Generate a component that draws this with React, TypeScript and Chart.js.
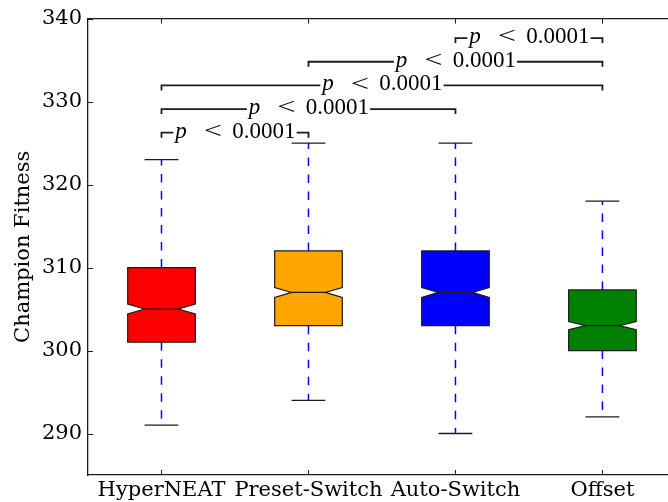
import { useEffect, useRef } from 'react';
import { Chart, registerables } from 'chart.js';

Chart.register(...registerables);

// Five-number summaries per method
const categories = ['HyperNEAT', 'Preset-Switch', 'Auto-Switch', 'Offset'];
const whiskerLow = [291, 294, 290, 292];
const quartile1 = [301, 303, 303, 300];
const medians = [305, 307, 307, 303];
const quartile3 = [310, 312, 312, 307.3];
const whiskerHigh = [323, 325, 325, 318];
const notchHalf = [0.6, 0.6, 0.6, 0.5];
const boxColors = ['#ff0000', '#ffa500', '#0000ff', '#008000'];

// Axis ticks
const yTicks = [290, 300, 310, 320, 330, 340];

// Pairwise significance brackets (1-based box positions)
const compareFrom = [1, 1, 1, 2, 3];
const compareTo = [2, 3, 4, 4, 4];
const compareLevel = [326.25, 329.1, 331.95, 334.8, 337.65];
const compareP = ['0.0001', '0.0001', '0.0001', '0.0001', '0.0001'];

const BOX_WIDTH = 0.46;
const INK = '#1c1c1c';
const LABEL_FONT = '"DejaVu Serif", serif';
const MATH_FONT = '"Liberation Serif", "DejaVu Serif", serif';
const LABEL_SIZE = 21;

const notchedBoxes = {
  id: 'notchedBoxes',
  afterDatasetsDraw(chart: any) {
    const { ctx, scales } = chart;
    const x = scales.x;
    const y = scales.y;
    const hw = BOX_WIDTH / 2;
    ctx.save();
    categories.forEach((_, i) => {
      const pos = i + 1;
      const xl = x.getPixelForValue(pos - hw);
      const xr = x.getPixelForValue(pos + hw);
      const xnl = x.getPixelForValue(pos - hw / 2);
      const xnr = x.getPixelForValue(pos + hw / 2);
      const yq1 = y.getPixelForValue(quartile1[i]);
      const yq3 = y.getPixelForValue(quartile3[i]);
      const ym = y.getPixelForValue(medians[i]);
      const ynl = y.getPixelForValue(medians[i] - notchHalf[i]);
      const ynh = y.getPixelForValue(medians[i] + notchHalf[i]);
      ctx.beginPath();
      ctx.moveTo(xl, yq1);
      ctx.lineTo(xl, ynl);
      ctx.lineTo(xnl, ym);
      ctx.lineTo(xl, ynh);
      ctx.lineTo(xl, yq3);
      ctx.lineTo(xr, yq3);
      ctx.lineTo(xr, ynh);
      ctx.lineTo(xnr, ym);
      ctx.lineTo(xr, ynl);
      ctx.lineTo(xr, yq1);
      ctx.closePath();
      ctx.fillStyle = boxColors[i];
      ctx.fill();
      ctx.lineWidth = 1.2;
      ctx.strokeStyle = INK;
      ctx.lineJoin = 'miter';
      ctx.stroke();
      ctx.beginPath();
      ctx.moveTo(xnl, ym);
      ctx.lineTo(xnr, ym);
      ctx.stroke();
    });
    ctx.restore();
  },
};

const frameAndBrackets = {
  id: 'frameAndBrackets',
  afterDraw(chart: any) {
    const { ctx, chartArea, scales } = chart;
    const x = scales.x;
    const y = scales.y;
    const { left, right, top, bottom } = chartArea;
    const tl = 5;
    ctx.save();
    ctx.strokeStyle = INK;
    ctx.lineWidth = 1.3;
    // top spine
    ctx.beginPath();
    ctx.moveTo(left, top);
    ctx.lineTo(right, top);
    ctx.stroke();
    // inward tick marks
    ctx.lineWidth = 1;
    ctx.beginPath();
    categories.forEach((_, i) => {
      const px = Math.round(x.getPixelForValue(i + 1)) + 0.5;
      ctx.moveTo(px, bottom);
      ctx.lineTo(px, bottom - tl);
      ctx.moveTo(px, top);
      ctx.lineTo(px, top + tl);
    });
    yTicks.forEach((v) => {
      const py = Math.round(y.getPixelForValue(v)) + 0.5;
      ctx.moveTo(left, py);
      ctx.lineTo(left + tl, py);
    });
    ctx.stroke();

    // significance brackets: "p < value" centred over each bracket line
    const size = 23;
    const ltCentre = 38.5;
    const digitsStart = 58;
    compareFrom.forEach((a, k) => {
      const x1 = x.getPixelForValue(a);
      const x2 = x.getPixelForValue(compareTo[k]);
      const ly = y.getPixelForValue(compareLevel[k]);
      ctx.strokeStyle = INK;
      ctx.lineWidth = 1.8;
      ctx.beginPath();
      ctx.moveTo(x1, ly + 5);
      ctx.lineTo(x1, ly);
      ctx.lineTo(x2, ly);
      ctx.lineTo(x2, ly + 5);
      ctx.stroke();

      ctx.font = `${size}px ${MATH_FONT}`;
      const digitsW = ctx.measureText(compareP[k]).width;
      const total = digitsStart + digitsW;
      const sx = (x1 + x2) / 2 - total / 2;
      ctx.fillStyle = '#ffffff';
      ctx.fillRect(sx - 1, ly - 4, total + 2, 8);
      ctx.fillStyle = '#000';
      ctx.textBaseline = 'middle';
      ctx.textAlign = 'left';
      ctx.font = `italic ${size}px ${MATH_FONT}`;
      ctx.fillText('p', sx + 1, ly - 1);
      ctx.save();
      ctx.translate(sx + ltCentre, ly - 1);
      ctx.scale(1.35, 1);
      ctx.font = `${size + 1}px ${MATH_FONT}`;
      ctx.textAlign = 'center';
      ctx.fillText('<', 0, 0);
      ctx.restore();
      ctx.font = `${size}px ${MATH_FONT}`;
      ctx.textAlign = 'left';
      ctx.fillText(compareP[k], sx + digitsStart, ly - 1);
    });
    ctx.restore();
  },
};

function buildDatasets() {
  const sets: any[] = [];
  const capHalf = BOX_WIDTH / 4;
  categories.forEach((_, i) => {
    const pos = i + 1;
    sets.push({
      data: [{ x: pos, y: quartile3[i] }, { x: pos, y: whiskerHigh[i] }],
      borderColor: '#0000ff',
      borderWidth: 1.5,
      borderDash: [8.5, 8.5],
    });
    sets.push({
      data: [{ x: pos, y: quartile1[i] }, { x: pos, y: whiskerLow[i] }],
      borderColor: '#0000ff',
      borderWidth: 1.5,
      borderDash: [8.5, 8.5],
    });
    sets.push({
      data: [{ x: pos - capHalf, y: whiskerHigh[i] }, { x: pos + capHalf, y: whiskerHigh[i] }],
      borderColor: INK,
      borderWidth: 1.3,
    });
    sets.push({
      data: [{ x: pos - capHalf, y: whiskerLow[i] }, { x: pos + capHalf, y: whiskerLow[i] }],
      borderColor: INK,
      borderWidth: 1.3,
    });
  });
  return sets.map((s) => ({ ...s, showLine: true, pointRadius: 0, fill: false }));
}

export default function App() {
  const canvasRef = useRef<HTMLCanvasElement | null>(null);

  useEffect(() => {
    document.body.style.margin = '0';
    const canvas = canvasRef.current;
    if (!canvas) return;
    const chart = new Chart(canvas, {
      type: 'scatter',
      data: { datasets: buildDatasets() },
      options: {
        responsive: false,
        animation: false,
        devicePixelRatio: 1,
        layout: { padding: { top: 17, right: 0, left: 0, bottom: 0 } },
        plugins: { legend: { display: false }, tooltip: { enabled: false } },
        scales: {
          x: {
            type: 'linear',
            min: 0.5,
            max: 4.446,
            afterBuildTicks: (s: any) => {
              s.ticks = categories.map((_, i) => ({ value: i + 1 }));
            },
            afterFit: (s: any) => {
              s.height = 27;
            },
            ticks: {
              autoSkip: false,
              maxRotation: 0,
              padding: 3,
              color: '#000',
              font: { family: LABEL_FONT, size: LABEL_SIZE },
              callback: (_v: any, idx: number) => categories[idx],
            },
            grid: { display: false, drawTicks: false },
            border: { display: true, color: INK, width: 1.3 },
          },
          y: {
            type: 'linear',
            min: 285,
            max: 340,
            afterBuildTicks: (s: any) => {
              s.ticks = yTicks.map((v) => ({ value: v }));
            },
            afterFit: (s: any) => {
              s.width = 88;
            },
            ticks: {
              padding: 6,
              color: '#000',
              font: { family: LABEL_FONT, size: LABEL_SIZE },
            },
            title: {
              display: true,
              text: 'Champion Fitness',
              color: '#000',
              font: { family: LABEL_FONT, size: LABEL_SIZE },
              padding: { top: 11, bottom: 0 },
            },
            grid: { display: false, drawTicks: false },
            border: { display: true, color: INK, width: 1.3 },
          },
        },
      },
      plugins: [notchedBoxes, frameAndBrackets],
    });
    return () => chart.destroy();
  }, []);

  return (
    <div style={{ width: 668, height: 502 }}>
      <canvas ref={canvasRef} width={668} height={502} style={{ display: 'block' }} />
    </div>
  );
}
